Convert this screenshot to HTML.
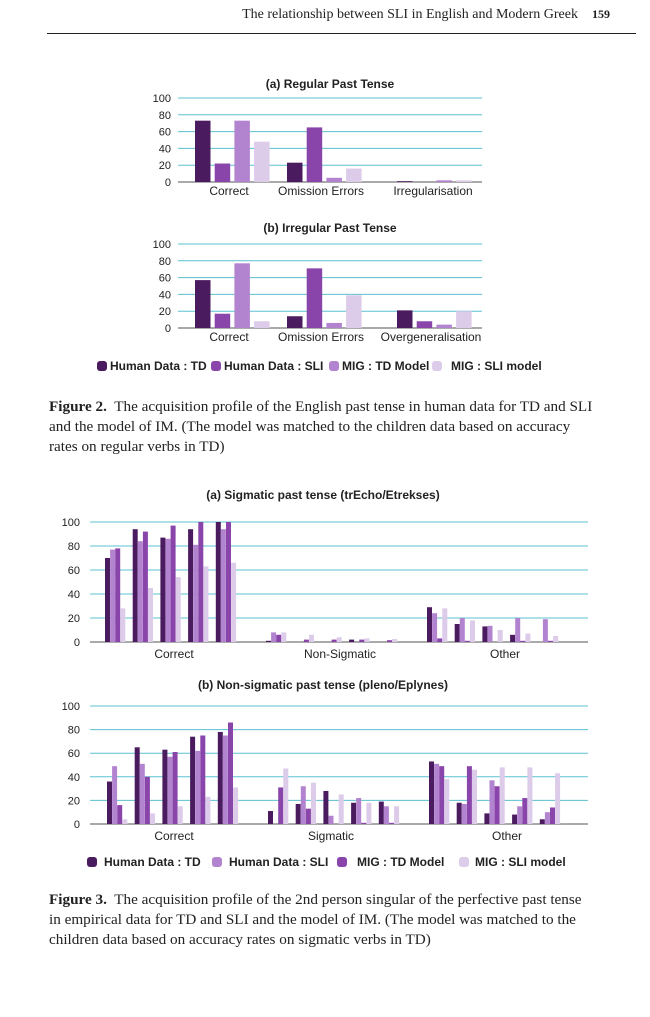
<!DOCTYPE html>
<html><head><meta charset="utf-8">
<style>
html,body{margin:0;padding:0;background:#fff;}
body{width:650px;height:1017px;position:relative;overflow:hidden;font-family:"Liberation Serif",serif;color:#222;}
.hdr{position:absolute;top:7px;right:40px;font-size:14px;white-space:nowrap;}
.hdr b{margin-left:14px;font-size:12px;}
.rule{position:absolute;left:47px;top:33px;width:589px;height:1px;background:#222;}
.cap{position:absolute;left:49px;width:580px;font-size:15.2px;line-height:20px;white-space:nowrap;}
svg{position:absolute;left:0;top:0;}
svg text{font-family:"Liberation Sans",sans-serif;}
</style></head>
<body>
<div class="hdr">The relationship between SLI in English and Modern Greek<b>159</b></div>
<div class="rule"></div>
<div class="cap" style="top:397px"><b>Figure 2.</b>&nbsp; The acquisition profile of the English past tense in human data for TD and SLI<br>and the model of IM. (The model was matched to the children data based on accuracy<br>rates on regular verbs in TD)</div>
<div class="cap" style="top:890px"><b>Figure 3.</b>&nbsp; The acquisition profile of the 2nd person singular of the perfective past tense<br>in empirical data for TD and SLI and the model of IM. (The model was matched to the<br>children data based on accuracy rates on sigmatic verbs in TD)</div>
<svg id="svg" width="650" height="1017"></svg>
<script>
// ---- Figure 2 data ----
const fig2Categories_a = ["Correct","Omission Errors","Irregularisation"];
const fig2Categories_b = ["Correct","Omission Errors","Overgeneralisation"];
const fig2Series = ["Human Data : TD","Human Data : SLI","MIG : TD Model","MIG : SLI model"];
const fig2a_TD = [73,23,1];
const fig2a_SLI = [22,65,0];
const fig2a_MIGTD = [73,5,2];
const fig2a_MIGSLI = [48,16,2];
const fig2b_TD = [57,14,21];
const fig2b_SLI = [17,71,8];
const fig2b_MIGTD = [77,6,4];
const fig2b_MIGSLI = [8,39,20];
const yTicks = [0,20,40,60,80,100];
// ---- Figure 3 data (5 subgroups per category) ----
const fig3Categories_a = ["Correct","Non-Sigmatic","Other"];
const fig3Categories_b = ["Correct","Sigmatic","Other"];
const fig3Series = ["Human Data : TD","Human Data : SLI","MIG : TD Model","MIG : SLI model"];
const fig3a_TD = [[70,94,87,94,100],[1,0,0,2,0],[29,15,13,6,0]];
const fig3a_SLI = [[77,84,86,81,94],[8,0,0,0,0],[24,20,13.5,20,19]];
const fig3a_MIGTD = [[78,92,97,100,100],[6,2,2,2,1.5],[3,1,0,1,1]];
const fig3a_MIGSLI = [[28,45,54,63,66],[8,6,4,3,2.5],[28,18,10,7,5]];
const fig3b_TD = [[36,65,63,74,78],[11,17,28,18,19],[53,18,9,8,4]];
const fig3b_SLI = [[49,51,57,62,75],[0,32,7,22,15],[51,17,37,15,10]];
const fig3b_MIGTD = [[16,40,61,75,86],[31,13,0,1,1],[49,49,32,22,14]];
const fig3b_MIGSLI = [[4,9,15,23,31],[47,35,25,18,15],[38,46,48,48,43]];

const NS="http://www.w3.org/2000/svg";
const svg=document.getElementById('svg');
function mk(tag,attrs,parent){const e=document.createElementNS(NS,tag);for(const k in attrs)e.setAttribute(k,attrs[k]);(parent||svg).appendChild(e);return e;}
function txt(s,x,y,size,anchor,weight,fill,parent){const t=mk('text',{x:x,y:y,'font-size':size,'text-anchor':anchor||'start','font-weight':weight||'normal',fill:fill||'#222'},parent);t.textContent=s;return t;}

function axisFrame(g,x0,x1,y0,y100,tickX){
  const ys=v=>y0+(y100-y0)*v/100;
  yTicks.forEach(v=>{
    const l=mk('line',{x1:x0,x2:x1,y1:ys(v),y2:ys(v),stroke:v===0?'#555':'#5bc0d0','stroke-width':1},g);
    
    
    const t=txt(String(v),tickX,ys(v)+4,11,'end','normal','#222',g);
    
    
  });
  return ys;
}

function fig2(name,title,titleY,y0,y100,cats,series,groupStarts,labelX){
  const g=mk('g',{});
  
  
  const tt=txt(title,330,titleY,12,'middle','bold','#222',g);
  
  
  const ys=axisFrame(g,178,482,y0,y100,171);
  const colors=['#4b1b60','#8a45aa','#b283cf','#ddcbea'];
  series.forEach((arr,k)=>{
    arr.forEach((v,i)=>{
      const x=groupStarts[i]+k*19.7;
      const r=mk('rect',{x:x,y:ys(v),width:15.5,height:ys(0)-ys(v),fill:colors[k]},g);
      
      
    });
  });
  cats.forEach((c,i)=>{
    const t=txt(c,labelX[i],y0+13,12,'middle','normal','#222',g);
    
    
  });
}
fig2('chart-regular-past','(a) Regular Past Tense',88,182,98,fig2Categories_a,[fig2a_TD,fig2a_SLI,fig2a_MIGTD,fig2a_MIGSLI],[195,287,397],[229,321,433]);
fig2('chart-irregular-past','(b) Irregular Past Tense',232,328,244,fig2Categories_b,[fig2b_TD,fig2b_SLI,fig2b_MIGTD,fig2b_MIGSLI],[195,287,397],[229,321,431]);

(function(){
  const g=mk('g',{});
  
  
  const colors=['#4b1b60','#8a45aa','#b283cf','#ddcbea'];
  const sx=[97,211,329,432], tx=[110,224,342,451];
  fig2Series.forEach((s,k)=>{
    const r=mk('rect',{x:sx[k],y:361,width:10,height:10,rx:3,fill:colors[k]},g);
    
    
    const t=txt(s,tx[k],370,12,'start','bold','#222',g);
    
    
  });
})();

const fig3Colors=['#4b1b60','#b283cf','#8a45aa','#ddcbea'];
function fig3(name,title,titleY,y0,y100,cats,series,start,labelX){
  const g=mk('g',{});
  
  
  const tt=txt(title,323,titleY,12,'middle','bold','#222',g);
  
  
  const ys=axisFrame(g,90,588,y0,y100,80);
  series.forEach((cat3,k)=>{
    cat3.forEach((sub,c)=>{
      sub.forEach((v,s)=>{
        const x=start+c*161+s*27.7+k*5.1;
        const r=mk('rect',{x:x,y:ys(v),width:5,height:ys(0)-ys(v),fill:fig3Colors[k]},g);
        
        
      });
    });
  });
  cats.forEach((c,i)=>{
    const t=txt(c,labelX[i],y0+16,12,'middle','normal','#222',g);
    
    
  });
}
fig3('chart-sigmatic-past','(a) Sigmatic past tense (trEcho/Etrekses)',499,642,522,fig3Categories_a,[fig3a_TD,fig3a_SLI,fig3a_MIGTD,fig3a_MIGSLI],105,[174,340,505]);
fig3('chart-nonsigmatic-past','(b) Non-sigmatic past tense (pleno/Eplynes)',689,824,706,fig3Categories_b,[fig3b_TD,fig3b_SLI,fig3b_MIGTD,fig3b_MIGSLI],107,[174,331,507]);

(function(){
  const g=mk('g',{});
  
  
  const sx=[87,212,337,459], tx=[104,229,357,475];
  fig3Series.forEach((s,k)=>{
    const r=mk('rect',{x:sx[k],y:857,width:10,height:10,rx:3,fill:fig3Colors[k]},g);
    
    
    const t=txt(s,tx[k],866,12,'start','bold','#222',g);
    
    
  });
})();
</script>
</body></html>
